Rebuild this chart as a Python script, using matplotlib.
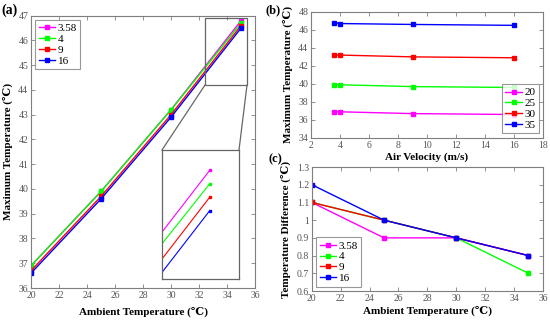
import matplotlib
matplotlib.use("Agg")
import matplotlib.pyplot as plt
from matplotlib.patches import Rectangle
from matplotlib.lines import Line2D

plt.rcParams['font.family'] = ['Liberation Serif', 'DejaVu Serif', 'DejaVu Sans']
plt.rcParams['font.size'] = 7

# data
ambient = [20, 25, 30, 35]
velocity = [3.58, 4, 9, 16]
vel_labels = ['3.58', '4', '9', '16']
amb_labels = ['20', '25', '30', '35']
# max temperature [velocity][ambient]
tmax_358 = [36.9, 39.9, 43.2, 46.8]
tmax_4 = [36.9, 39.9, 43.2, 46.7]
tmax_9 = [36.7, 39.7, 43.0, 46.6]
tmax_16 = [36.6, 39.6, 42.9, 46.5]
# temperature difference [velocity][ambient]
tdiff_358 = [1.1, 0.9, 0.9, 0.8]
tdiff_4 = [1.1, 1.0, 0.9, 0.7]
tdiff_9 = [1.1, 1.0, 0.9, 0.8]
tdiff_16 = [1.2, 1.0, 0.9, 0.8]

COLORS = ['#ff00ff', '#00ff00', '#ff0000', '#0000ff']
EDGE = '#7f7f7f'
TICKC = '#555555'
LABFS = 8

tmax = [tmax_358, tmax_4, tmax_9, tmax_16]
tdiff = [tdiff_358, tdiff_4, tdiff_9, tdiff_16]


def style(ax):
    for s in ax.spines.values():
        s.set_color(EDGE)
        s.set_linewidth(0.8)
    ax.tick_params(direction='in', top=True, right=True, length=3, width=0.6,
                   color=EDGE, labelcolor=TICKC, labelsize=7, pad=2)


def legend(ax, loc):
    leg = ax.legend(loc=loc, fontsize=8, handlelength=1.5, handletextpad=0.2,
                    borderpad=0.3, labelspacing=0.1, frameon=True, fancybox=False,
                    borderaxespad=0.4)
    leg.get_frame().set_edgecolor(EDGE)
    leg.get_frame().set_linewidth(0.8)


fig = plt.figure(figsize=(5.5, 3.2), dpi=100)

# (a)
ax1 = fig.add_axes([0.0564, 0.100, 0.4073, 0.851])
for i in range(4):
    ax1.plot(ambient, tmax[i], color=COLORS[i], marker='s', ms=3, lw=1, label=vel_labels[i])
ax1.set_xlim(20, 36)
ax1.set_ylim(36, 47)
ax1.set_xticks(range(20, 37, 2))
ax1.set_yticks(range(36, 48))
style(ax1)
ax1.set_xlabel('Ambient Temperature (℃)', fontsize=LABFS, fontweight='bold', labelpad=5)
ax1.set_ylabel('Maximum Temperature (℃)', fontsize=LABFS, fontweight='bold', labelpad=4)
legend(ax1, 'upper left')

# zoom box in (a)
ax1.add_patch(Rectangle((32.4, 44.2), 3.0, 2.7, fill=False, ec='#666666', lw=0.9, zorder=5))

# inset
axin = fig.add_axes([0.2945, 0.128, 0.14, 0.403])
for i in range(4):
    axin.plot(ambient, tmax[i], color=COLORS[i], marker='s', ms=2, lw=0.8)
axin.set_xlim(34.36, 35.39)
axin.set_ylim(45.99, 46.95)
axin.set_xticks([])
axin.set_yticks([])
for s in axin.spines.values():
    s.set_color('#666666')
    s.set_linewidth(0.9)

# connector lines (figure pixel coords)
for (x0, y0), (x1, y1) in [((205, 85), (162, 150)), ((247, 85), (239, 150))]:
    fig.add_artist(Line2D([x0 / 550, x1 / 550], [1 - y0 / 320, 1 - y1 / 320],
                          color='#666666', lw=0.9))

# (b)
ax2 = fig.add_axes([0.5655, 0.569, 0.4218, 0.394])
for j in range(4):
    ax2.plot(velocity, [tmax[i][j] for i in range(4)], color=COLORS[j], marker='s',
             ms=3, lw=1, label=amb_labels[j])
ax2.set_xlim(2, 18)
ax2.set_ylim(34, 48)
ax2.set_xticks(range(2, 19, 2))
ax2.set_yticks(range(34, 49, 2))
style(ax2)
ax2.set_xlabel('Air Velocity (m/s)', fontsize=LABFS, fontweight='bold', labelpad=2)
ax2.set_ylabel('Maximum Temperature (℃)', fontsize=LABFS, fontweight='bold', labelpad=4)
legend(ax2, 'lower right')

# (c)
ax3 = fig.add_axes([0.567, 0.0906, 0.42, 0.3875])
for i in range(4):
    ax3.plot(ambient, tdiff[i], color=COLORS[i], marker='s', ms=3, lw=1, label=vel_labels[i])
ax3.set_xlim(20, 36)
ax3.set_ylim(0.6, 1.3)
ax3.set_xticks(range(20, 37, 2))
ax3.set_yticks([0.6, 0.7, 0.8, 0.9, 1.0, 1.1, 1.2, 1.3])
ax3.set_yticklabels(['0.6', '0.7', '0.8', '0.9', '1', '1.1', '1.2', '1.3'])
style(ax3)
ax3.set_xlabel('Ambient Temperature (℃)', fontsize=LABFS, fontweight='bold', labelpad=2)
ax3.set_ylabel('Temperature Difference (℃)', fontsize=LABFS, fontweight='bold', labelpad=4)
legend(ax3, 'lower left')

fig.text(0.003, 0.968, '(a)', fontsize=10, fontweight='bold', va='center')
fig.text(0.483, 0.968, '(b)', fontsize=9, fontweight='bold', va='center')
fig.text(0.489, 0.503, '(c)', fontsize=9, fontweight='bold', va='center')

fig.savefig('out.png', dpi=100)
